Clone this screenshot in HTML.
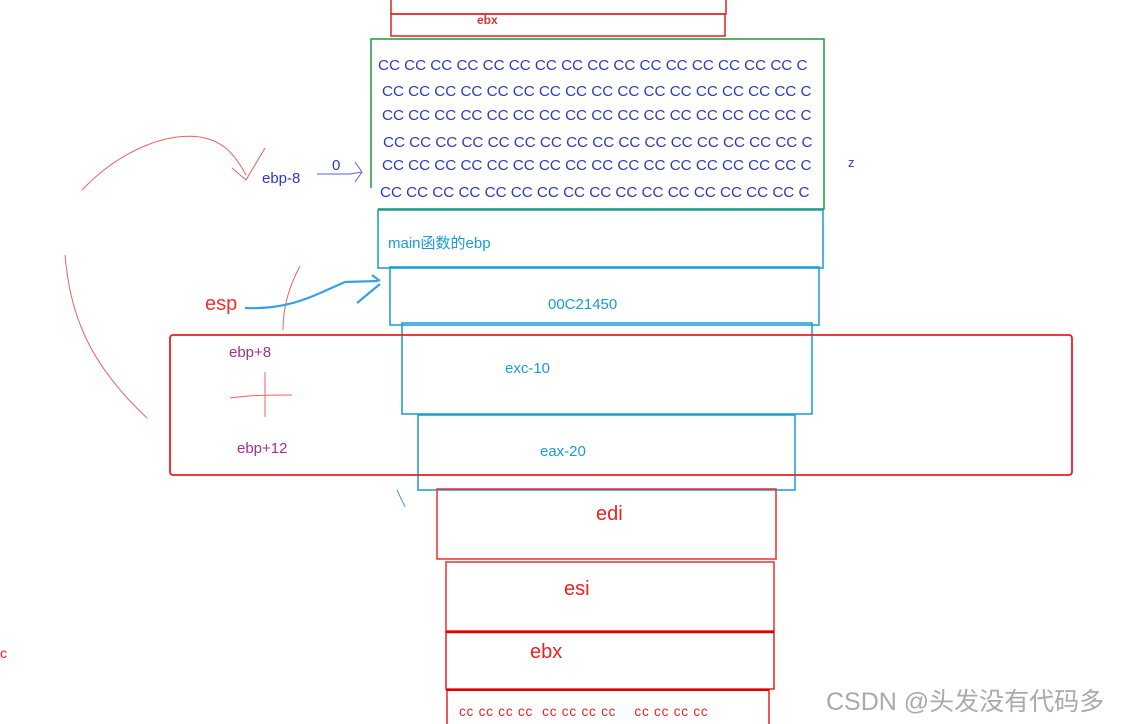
<!DOCTYPE html>
<html><head><meta charset="utf-8"><style>
body{margin:0;background:#fff;width:1126px;height:724px;overflow:hidden}
svg{position:absolute;left:0;top:0}
text{font-family:"Liberation Sans","Noto Sans CJK SC",sans-serif}
</style></head><body>
<svg width="1126" height="724" viewBox="0 0 1126 724">
<g fill="none">
<rect x="391" y="-2" width="335" height="16" stroke="#e02020" stroke-width="1.5"/>
<rect x="391" y="14" width="334" height="22" stroke="#e02020" stroke-width="1.5"/>
<path d="M371 188 V39 H824 V209 H378" stroke="#1a9a3a" stroke-width="1.5"/>
<rect x="378" y="210" width="445" height="58" stroke="#1a9ad6" stroke-width="1.5"/>
<rect x="390" y="267" width="429" height="58" stroke="#1a9ad6" stroke-width="1.5"/>
<rect x="402" y="323" width="410" height="91" stroke="#1a9ad6" stroke-width="1.5"/>
<rect x="418" y="415" width="377" height="75" stroke="#1a9ad6" stroke-width="1.5"/>
<rect x="170" y="335" width="902" height="140" rx="3" stroke="#e82020" stroke-width="1.8"/>
<rect x="437" y="489" width="339" height="70" stroke="#e83030" stroke-width="1.5"/>
<rect x="446" y="562" width="328" height="69" stroke="#e83030" stroke-width="1.5"/>
<rect x="446" y="632" width="328" height="57" stroke="#e82020" stroke-width="1.5"/>
<line x1="446" y1="632" x2="774" y2="632" stroke="#e00000" stroke-width="2.5"/>
<path d="M447 726 V690 H769 V726" stroke="#e82020" stroke-width="1.5"/>
<line x1="446" y1="690" x2="769" y2="690" stroke="#e00000" stroke-width="2"/>
<path d="M82 190 C120 150,170 130,205 138 C225 143,235 155,246 175" stroke="#f06060" stroke-width="1"/>
<path d="M232 168 L246 180 L265 148" stroke="#f06060" stroke-width="1"/>
<path d="M65 255 C70 310,85 360,147 418" stroke="#f06060" stroke-width="1"/>
<path d="M300 266 C290 285,283 305,283 330" stroke="#f06060" stroke-width="1"/>
<path d="M230 398 C250 395,270 395,292 395 M265 372 V417" stroke="#f06060" stroke-width="1"/>
<path d="M317 174 H350 L362 172 M355 162 L362 172 L355 182" stroke="#5566cc" stroke-width="1"/>
<path d="M245 308 C290 310,315 295,345 282 L378 281 M357 303 L380 284 M372 275 L380 281" stroke="#3aa0e0" stroke-width="2.2"/>
<path d="M397 490 L405 507" stroke="#3aa0e0" stroke-width="1"/>
</g>
<g font-size="15.2" fill="#2a3ab8">
<text x="378" y="70">CC CC CC CC CC CC CC CC CC CC CC CC CC CC CC CC C</text>
<text x="382" y="96">CC CC CC CC CC CC CC CC CC CC CC CC CC CC CC CC C</text>
<text x="382" y="120">CC CC CC CC CC CC CC CC CC CC CC CC CC CC CC CC C</text>
<text x="383" y="147">CC CC CC CC CC CC CC CC CC CC CC CC CC CC CC CC C</text>
<text x="382" y="170">CC CC CC CC CC CC CC CC CC CC CC CC CC CC CC CC C</text>
<text x="380" y="197">CC CC CC CC CC CC CC CC CC CC CC CC CC CC CC CC C</text>
<text x="262" y="183" font-size="15">ebp-8</text>
<text x="332" y="170" font-size="15">0</text>
<text x="848" y="167" font-size="13">z</text>
</g>
<text x="477" y="24" font-size="12" font-weight="bold" fill="#e03030">ebx</text>
<g font-size="15" fill="#1a9ad6">
<text x="388" y="248">main函数的ebp</text>
<text x="548" y="309">00C21450</text>
<text x="505" y="373">exc-10</text>
<text x="540" y="456">eax-20</text>
</g>
<text x="205" y="310" font-size="20" fill="#f03030">esp</text>
<text x="229" y="357" font-size="15" fill="#a03090">ebp+8</text>
<text x="237" y="453" font-size="15" fill="#a03090">ebp+12</text>
<g font-size="20" fill="#f02020">
<text x="596" y="520">edi</text>
<text x="564" y="595">esi</text>
<text x="530" y="658">ebx</text>
</g>
<text x="459" y="716" font-size="13.5" fill="#f02020" letter-spacing="0.8">cc cc cc cc &#160;cc cc cc cc &#160; &#160;cc cc cc cc</text>
<text x="0" y="658" font-size="14" fill="#f02020">c</text>
<text x="826" y="710" font-size="25" fill="#aaa">CSDN @头发没有代码多</text>
</svg>
</body></html>
